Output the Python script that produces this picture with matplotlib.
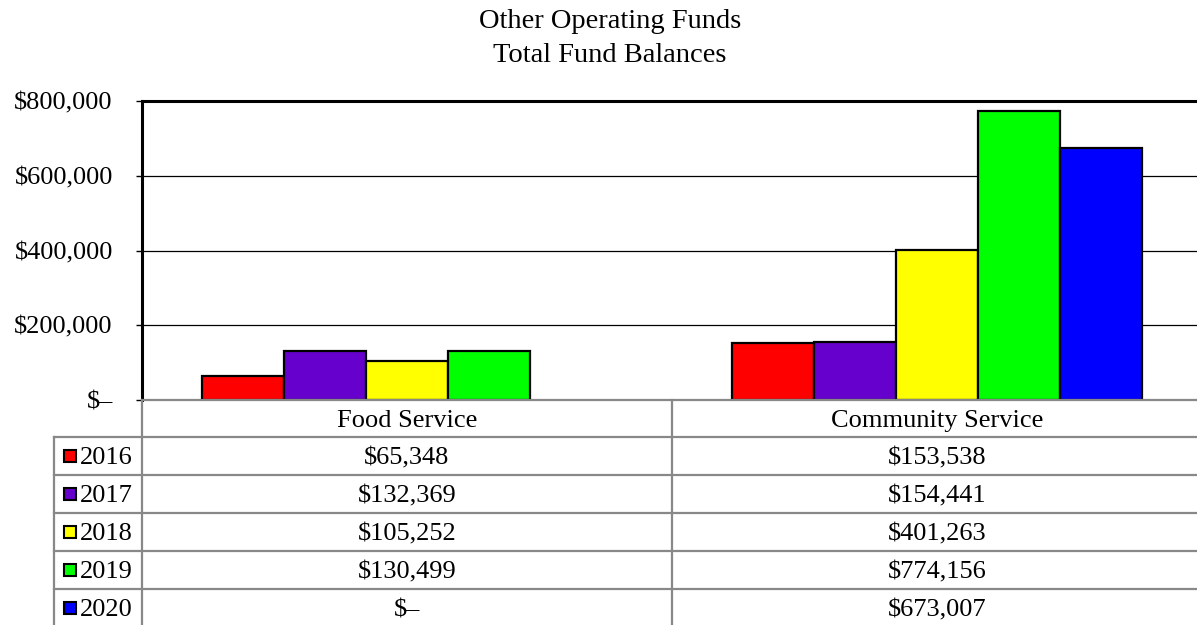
import matplotlib
matplotlib.use("Agg")
import matplotlib.pyplot as plt
from matplotlib.patches import Rectangle
from matplotlib.lines import Line2D

# ---- data ----
categories = ["Food Service", "Community Service"]
years = ["2016", "2017", "2018", "2019", "2020"]
food_service = [65348, 132369, 105252, 130499, 0]
community_service = [153538, 154441, 401263, 774156, 673007]
colors = ["#FF0000", "#6600CC", "#FFFF00", "#00FF00", "#0000FF"]
yticks = [0, 200000, 400000, 600000, 800000]
title_lines = ["Other Operating Funds", "Total Fund Balances"]

series = [[food_service[i], community_service[i]] for i in range(len(years))]

def money(v):
    return "$–" if v == 0 else "${:,.0f}".format(v)

W, H = 1197, 625
plt.rcParams['font.family'] = ['Liberation Serif', 'DejaVu Serif']
FS = 19
TFS = 20.5

fig = plt.figure(figsize=(W / 100, H / 100), dpi=100)

# plot area (in pixels: left 142, top 101, bottom 400, right beyond figure edge)
ax = fig.add_axes([142 / W, 1 - 400 / H, (1202 - 142) / W, 299 / H])
ax.set_xlim(0, len(categories))
ax.set_ylim(0, 800000)

bw = 82 / 530
n = len(years)
for i, (yr, vals) in enumerate(zip(years, series)):
    xs = [c + 0.5 + (i - (n - 1) / 2) * bw for c in range(len(categories))]
    lws = [1.6 if v > 0 else 0 for v in vals]
    ax.bar(xs, vals, width=bw, color=colors[i], edgecolor='black',
           linewidth=lws, zorder=3)

ax.set_yticks(yticks)
ax.set_yticklabels([money(v) for v in yticks], fontsize=FS)
ax.set_xticks([])
ax.tick_params(axis='y', length=4, width=1, color='black', pad=17)
ax.yaxis.grid(True, color='black', linewidth=0.9)
ax.set_axisbelow(True)
ax.spines['right'].set_visible(False)
ax.spines['top'].set_linewidth(2.2)
ax.spines['left'].set_linewidth(2.2)
ax.spines['bottom'].set_color('#888888')
ax.spines['bottom'].set_linewidth(1.6)
ax.spines['bottom'].set_zorder(4)

# title
fig.text(610 / W, 1 - 28.5 / H, title_lines[0], ha='center', va='baseline', fontsize=TFS)
fig.text(610 / W, 1 - 61.5 / H, title_lines[1], ha='center', va='baseline', fontsize=TFS)

# ---- data table below the axes (pixel coordinates, top-down) ----
tax = fig.add_axes([0, 0, 1, 1])
tax.set_xlim(0, W)
tax.set_ylim(H, 0)
tax.axis('off')
tax.patch.set_alpha(0)

fig.canvas.draw()
def data_x_to_px(x):
    return ax.transData.transform((x, 0))[0]

col_edges = [data_x_to_px(c) for c in range(len(categories) + 1)]
col_centers = [data_x_to_px(c + 0.5) for c in range(len(categories))]
label_left = 54
row_tops = [400, 437, 475, 513, 551, 589, 627]
gray = '#888888'
lw = 1.6
boff = 8.5  # baseline offset from row centre (px)

# horizontal lines
for y in row_tops[1:-1]:
    tax.add_line(Line2D([label_left, W + 5], [y, y], color=gray, linewidth=lw))
# vertical lines
tax.add_line(Line2D([label_left, label_left], [row_tops[1], H + 5], color=gray, linewidth=lw))
for xe in col_edges[:-1]:
    tax.add_line(Line2D([xe, xe], [row_tops[0], H + 5], color=gray, linewidth=lw))

# header
hy = (row_tops[0] + row_tops[1]) / 2
for cx, cat in zip(col_centers, categories):
    tax.text(cx, hy + boff, cat, ha='center', va='baseline', fontsize=FS)

# rows
for i, yr in enumerate(years):
    cy = (row_tops[i + 1] + row_tops[i + 2]) / 2
    tax.add_patch(Rectangle((64, cy - 6.5), 12, 12, facecolor=colors[i],
                            edgecolor='black', linewidth=1.5))
    tax.text(80, cy + boff, yr, ha='left', va='baseline', fontsize=FS)
    for cx, v in zip(col_centers, series[i]):
        tax.text(cx, cy + boff, money(v), ha='center', va='baseline', fontsize=FS)

fig.savefig("out.png", dpi=100)
